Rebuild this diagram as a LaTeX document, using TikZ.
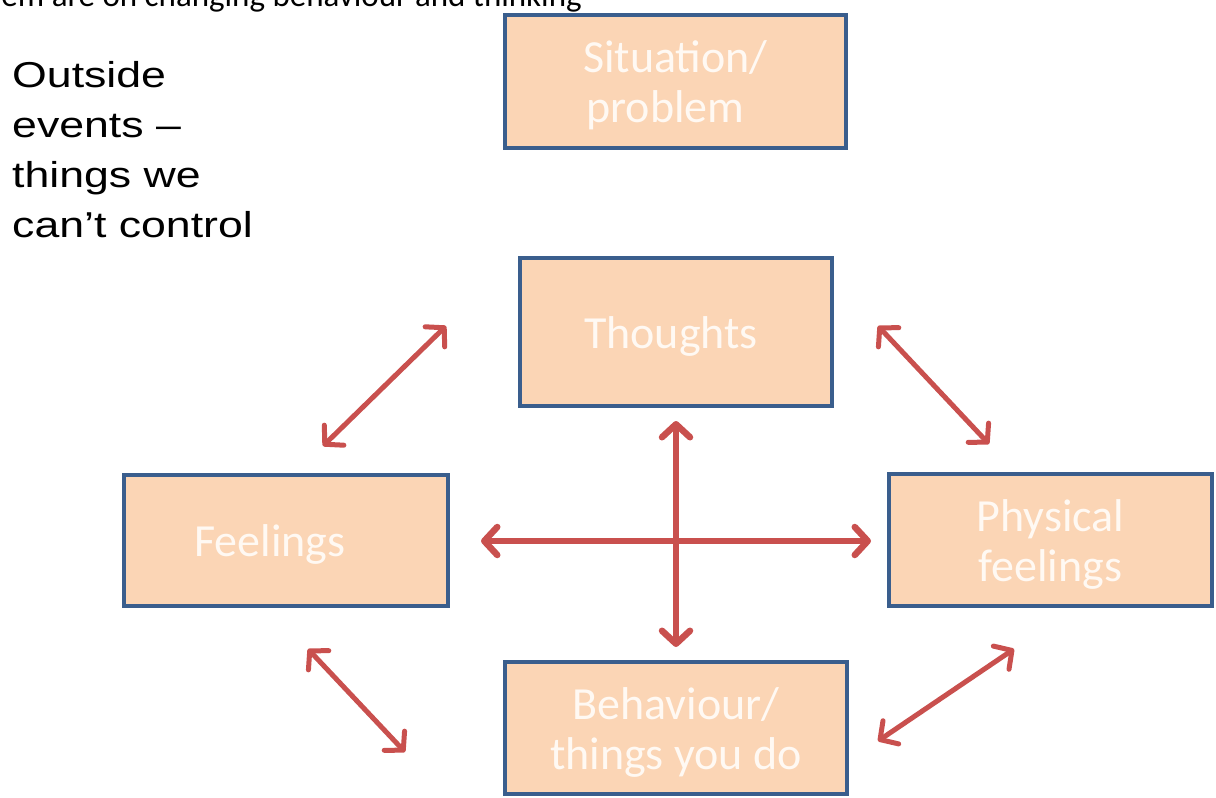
\documentclass[tikz,border=0pt]{standalone}
\usepackage{fontspec}
\usepackage{graphicx}
\setmainfont{Carlito}
\newfontfamily\arialfont{Liberation Sans}
\usetikzlibrary{arrows.meta}
\definecolor{boxfill}{HTML}{FBD5B5}
\definecolor{boxline}{HTML}{3A5E8D}
\definecolor{arrred}{HTML}{C9504E}
\definecolor{boxtext}{HTML}{FFF9F3}
\newcommand{\lowr}[1]{\raisebox{-4pt}[\height][\depth]{#1}}
\tikzset{
  stagebox/.style={draw=boxline, fill=boxfill, line width=4.5pt, inner sep=0pt,
    text=boxtext, font=\fontsize{46}{50}\selectfont, align=center},
  linkarrow/.style={draw=arrred, line width=5pt, line cap=round,
    {Straight Barb[length=13pt,width=28pt,line cap=round,line join=round]}-{Straight Barb[length=13pt,width=28pt,line cap=round,line join=round]}},
  crossarrow/.style={linkarrow, line width=6.5pt}
}
\begin{document}
\begin{tikzpicture}[x=1pt,y=-1pt]
\useasboundingbox (0,0) rectangle (1216,798);
\clip (0,0) rectangle (1216,798);
% top cut text
\node[anchor=base east, inner sep=0pt, font=\fontsize{33}{40}\selectfont] (toptext) at (582,6) {em are on changing behaviour and thinking};
% left text
\node[anchor=north west, inner sep=0pt, align=left, font=\arialfont\fontsize{36}{50}\selectfont] (outside) at (12,61)
  {\scalebox{1.24}[1]{Outside}\\\scalebox{1.24}[1]{events –}\\\scalebox{1.24}[1]{things we}\\\scalebox{1.24}[1]{can’t control}};
% boxes
\node[stagebox, minimum width=341pt, minimum height=133pt] (sit) at (675.5,81.5) {\lowr{Situation/}\\\lowr{problem\hspace*{20pt}}};
\node[stagebox, minimum width=312pt, minimum height=148pt] (thou) at (676,332) {\lowr{Thoughts\hspace*{10pt}}};
\node[stagebox, minimum width=324pt, minimum height=131pt] (feel) at (286,540.5) {\lowr{Feelings\hspace*{32pt}}};
\node[stagebox, minimum width=323pt, minimum height=132pt] (phys) at (1050.5,540) {\lowr{Physical}\\\lowr{feelings}};
\node[stagebox, minimum width=342pt, minimum height=132pt] (beh) at (676,728) {\lowr{Behaviour/}\\\lowr{things you do}};
% arrow ends
\coordinate (tlA) at (446,326);
\coordinate (tlB) at (323,446);
\coordinate (trA) at (878,326);
\coordinate (trB) at (989,444);
\coordinate (blA) at (308,649);
\coordinate (blB) at (405,752);
\coordinate (brA) at (1014,649);
\coordinate (brB) at (878,741);
\coordinate (hA) at (481,541);
\coordinate (hB) at (871,541);
\coordinate (vA) at (676,421);
\coordinate (vB) at (676,647);
\draw[linkarrow] (tlA) -- (tlB);
\draw[linkarrow] (trA) -- (trB);
\draw[linkarrow] (blA) -- (blB);
\draw[linkarrow] (brA) -- (brB);
\draw[crossarrow] (hA) -- (hB);
\draw[crossarrow] (vA) -- (vB);
\end{tikzpicture}
\end{document}
